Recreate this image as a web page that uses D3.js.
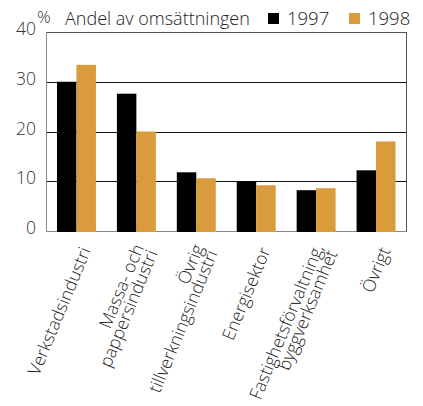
<!DOCTYPE html>
<html><head><meta charset="utf-8">
<script src="https://cdn.jsdelivr.net/npm/d3@7/dist/d3.min.js"></script>
<style>
html,body{margin:0;padding:0;background:#fff;}
text{font-family:"Open Sans","Noto Sans",sans-serif;font-weight:300;}
</style></head>
<body><svg id="c" width="423" height="406"></svg>
<script>
const categories = [
  ["Verkstadsindustri"],
  ["Massa- och","pappersindustri"],
  ["Övrig","tillverkningsindustri"],
  ["Energisektor"],
  ["Fastighetsförvaltning,","byggverksamhet"],
  ["Övrigt"]
];
const seriesNames = ["1997","1998"];
const values1997 = [30.0, 27.6, 11.8, 10.0, 8.2, 12.2];
const values1998 = [33.4, 20.0, 10.6, 9.2, 8.6, 18.0];
const yTicks = [0,10,20,30,40];
const colors = ["#000000","#D99B3C"];
const yLabel = "%";
const title = "Andel av omsättningen";

const svg = d3.select("#c");
const L=46.5, R=406, T=32, B=231;
const keys = categories.map(c=>c.join(" "));
const x0 = d3.scaleBand().domain(keys).range([L,R]).paddingInner(0.35).paddingOuter(0.175);
const x1 = d3.scaleBand().domain(seriesNames).range([0,x0.bandwidth()]);
const y = d3.scaleLinear().domain([0,40]).range([B,T]);
const data = keys.map((k,i)=>({k, v:[values1997[i], values1998[i]]}));

// gridlines
svg.append("g").selectAll("line").data(yTicks.filter(t=>t>0&&t<40)).join("line")
  .attr("x1",L).attr("x2",R).attr("y1",d=>Math.round(y(d))+0.5).attr("y2",d=>Math.round(y(d))+0.5)
  .attr("stroke","#111").attr("stroke-width",1);
// frame
svg.append("line").attr("x1",L).attr("x2",R).attr("y1",T+0.5).attr("y2",T+0.5).attr("stroke","#555");
svg.append("line").attr("x1",R+0.5).attr("x2",R+0.5).attr("y1",T).attr("y2",B+1).attr("stroke","#555");
svg.append("line").attr("x1",L).attr("x2",L).attr("y1",T).attr("y2",B+1).attr("stroke","#888");
svg.append("line").attr("x1",L).attr("x2",R+1).attr("y1",B+0.5).attr("y2",B+0.5).attr("stroke","#888");

// bars
const g = svg.append("g").selectAll("g").data(data).join("g").attr("transform",d=>`translate(${x0(d.k)},0)`);
g.selectAll("rect").data(d=>d.v.map((v,i)=>({v,i}))).join("rect")
  .attr("x",d=>x1(seriesNames[d.i])).attr("width",x1.bandwidth())
  .attr("y",d=>y(d.v)).attr("height",d=>B+1-y(d.v)).attr("fill",d=>colors[d.i]);

// y tick labels
svg.append("g").selectAll("text").data(yTicks).join("text")
  .attr("x",36).attr("y",d=>y(d)+3).attr("text-anchor","end")
  .attr("font-size",17.5).attr("fill","#333").text(d=>d);
svg.append("text").attr("x",37).attr("y",23).attr("font-size",17).attr("fill","#333").text(yLabel);
svg.append("text").attr("x",65).attr("y",25).attr("font-size",18).attr("fill","#222").text(title);

// legend
const legX = [268, 349];
seriesNames.forEach((s,i)=>{
  svg.append("rect").attr("x",legX[i]).attr("y",13).attr("width",11).attr("height",11).attr("fill",colors[i]);
  svg.append("text").attr("x",legX[i]+19).attr("y",25).attr("font-size",18.5).attr("fill","#222").text(s);
});

// category labels
const lh = 15;
const lab = svg.append("g").selectAll("g").data(categories).join("g")
  .attr("transform",(d,i)=>`translate(${x0(keys[i])+x0.bandwidth()/2+9},${B+17}) rotate(-67.5)`);
lab.each(function(lines){
  const n = lines.length;
  d3.select(this).selectAll("text").data(lines).join("text")
    .attr("x",0).attr("y",(d,j)=>(j-(n-1)/2)*lh).attr("dy","0.35em")
    .attr("text-anchor","end").attr("font-size",17.5).attr("fill","#222").text(d=>d);
});
</script></body></html>
